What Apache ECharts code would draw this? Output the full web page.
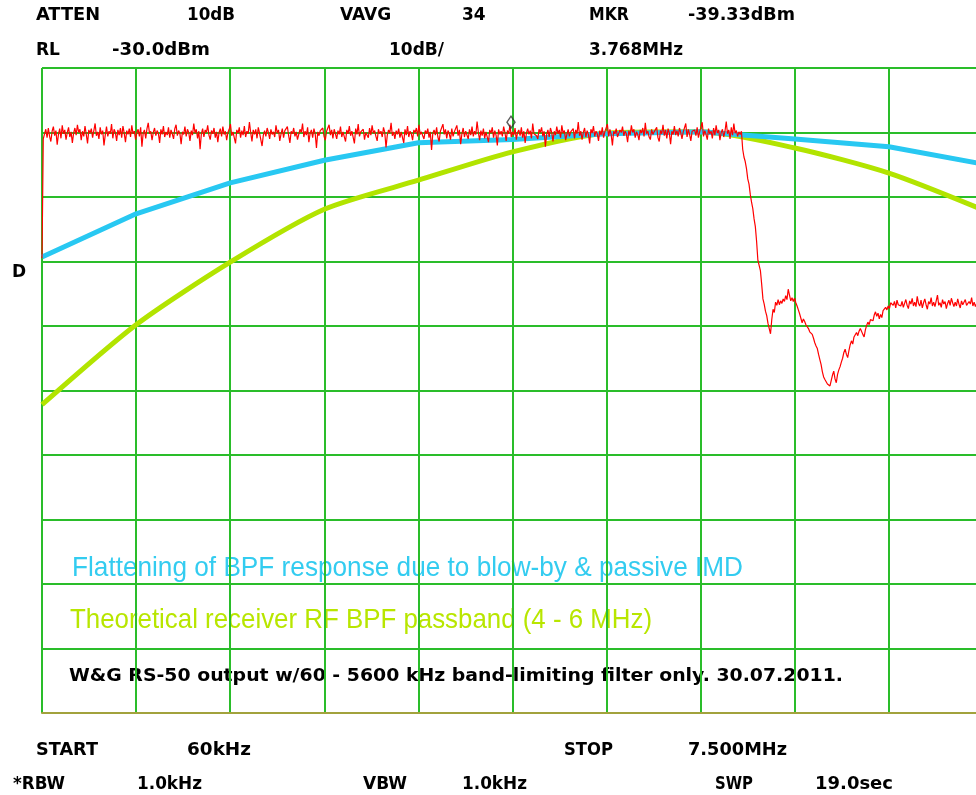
<!DOCTYPE html>
<html><head><meta charset="utf-8">
<script src="https://cdn.jsdelivr.net/npm/echarts@6/dist/echarts.min.js"></script>
<style>html,body{margin:0;padding:0;background:#fff}#c{width:976px;height:795px}</style>
</head><body><div id="c"></div>
<script>
// ---- DATA ----
const startMHz = 0.06, stopMHz = 7.5;          // START / STOP
const refLevelDbm = -30, dbPerDiv = 10, divisions = 10;
const redStepMHz = 0.01;                        // sweep point spacing of the measured trace
// measured trace (dBm), one value per sweep point starting at startMHz
const redLevels = [
 -59.5,
 -41.0,-40.2,-39.5,-40.8,-39.3,-40.6,-41.4,-39.8,-39.1,-40.5,-39.7,-41.9,-40.3,-39.4,-40.9,-38.9,-40.2,-39.6,-41.1,-40.0,
 -39.2,-40.7,-39.9,-41.6,-40.1,-39.3,-40.4,-38.8,-40.0,-39.5,-41.2,-39.8,-40.6,-39.0,-40.3,-41.7,-39.6,-40.1,-39.4,-40.8,
 -39.7,-38.6,-40.5,-39.9,-41.0,-39.2,-40.3,-39.7,-42.0,-40.4,-39.1,-40.6,-39.8,-40.2,-38.7,-40.9,-39.5,-40.0,-41.3,-39.6,
 -40.4,-39.3,-40.8,-39.0,-40.1,-41.5,-39.7,-40.3,-39.4,-40.7,-38.9,-40.2,-39.8,-41.1,-40.0,-39.5,-40.6,-39.2,-42.2,-40.1,
 -39.6,-40.9,-39.4,-38.5,-40.2,-39.8,-41.2,-40.0,-39.3,-40.5,-39.7,-40.1,-41.6,-39.5,-40.3,-39.0,-40.7,-39.9,-40.4,-39.2,
 -40.8,-39.6,-40.2,-41.0,-39.4,-38.8,-40.5,-39.7,-40.1,-41.8,-39.9,-40.3,-39.1,-40.6,-39.5,-40.0,-41.3,-39.7,-40.4,-38.6,
 -40.1,-39.5,-40.9,-39.8,-42.6,-40.2,-39.4,-40.7,-39.6,-40.0,-38.9,-40.4,-41.1,-39.7,-40.2,-39.3,-40.8,-39.9,-41.5,-40.0,
 -39.4,-40.6,-39.1,-40.3,-39.8,-41.2,-40.0,-39.5,-38.7,-40.5,-39.9,-40.2,-41.7,-39.6,-40.1,-39.2,-40.8,-39.7,-40.4,-39.0,
 -40.7,-39.8,-40.2,-38.4,-40.0,-41.4,-39.6,-40.3,-39.5,-40.9,-39.2,-40.1,-39.8,-42.1,-40.4,-39.7,-40.6,-39.3,-40.0,-41.0,
 -39.5,-40.3,-39.9,-40.7,-38.9,-40.1,-39.6,-41.3,-40.2,-39.4,-40.8,-39.7,-40.0,-39.1,-40.5,-41.6,-39.8,-40.2,-39.3,-40.6,
 -39.9,-41.1,-40.3,-39.5,-40.0,-38.6,-40.7,-39.8,-40.4,-39.2,-41.5,-40.1,-39.6,-40.8,-39.4,-40.2,-42.4,-39.9,-40.5,-39.7,
 -40.0,-39.3,-40.6,-41.2,-39.8,-40.1,-38.8,-40.4,-39.6,-40.9,-39.5,-40.2,-41.0,-39.7,-40.3,-39.1,-40.7,-39.9,-40.1,-41.4,
 -39.6,-40.2,-39.0,-40.5,-39.8,-40.0,-41.7,-39.4,-40.3,-38.7,-40.6,-39.9,-40.2,-39.5,-41.1,-40.0,-39.7,-40.8,-39.3,-40.4,
 -38.9,-40.1,-39.7,-40.6,-41.3,-39.5,-40.2,-39.8,-40.7,-39.2,-40.0,-42.3,-40.4,-39.6,-40.1,-38.5,-40.5,-39.9,-41.0,-39.7,
 -40.3,-39.4,-40.8,-39.9,-40.1,-41.6,-39.5,-40.4,-39.0,-40.7,-39.8,-40.2,-41.2,-39.6,-40.0,-39.3,-40.6,-38.8,-40.3,-39.9,
 -40.5,-41.0,-39.7,-40.2,-39.4,-40.8,-39.9,-42.7,-40.1,-39.6,-40.4,-39.2,-40.7,-41.4,-39.8,-40.0,-38.7,-40.3,-39.5,-40.9,
 -39.7,-40.2,-41.1,-39.4,-40.6,-39.9,-40.0,-38.9,-40.5,-39.6,-41.8,-40.2,-39.3,-40.7,-39.8,-40.1,-41.0,-39.5,-40.4,-39.1,
 -40.6,-39.8,-40.3,-38.3,-40.0,-41.2,-39.7,-40.5,-39.4,-40.9,-39.9,-40.2,-41.5,-39.6,-40.1,-39.2,-40.8,-39.7,-40.4,-42.0,
 -39.5,-40.3,-39.8,-40.6,-39.1,-40.0,-41.3,-39.7,-40.2,-38.8,-40.7,-39.9,-40.4,-39.3,-41.1,-40.0,-39.6,-40.5,-39.2,-40.8,
 -39.8,-41.6,-40.1,-39.4,-40.3,-39.7,-40.9,-38.6,-40.2,-39.9,-40.5,-41.0,-39.5,-40.0,-39.2,-40.6,-39.8,-42.2,-40.3,-39.6,
 -40.7,-39.3,-40.0,-41.4,-39.8,-40.4,-39.1,-40.2,-39.6,-40.8,-38.9,-40.1,-39.7,-41.2,-40.3,-39.5,-40.6,-39.9,-40.0,-39.4,
 -40.9,-39.6,-40.2,-38.4,-40.5,-39.8,-41.1,-40.0,-39.3,-40.7,-39.7,-40.3,-41.7,-39.5,-40.1,-39.0,-40.6,-39.8,-40.2,-41.3,
 -39.7,-40.4,-39.2,-40.8,-39.9,-40.1,-38.7,-40.6,-39.5,-40.3,-42.0,-39.8,-40.2,-39.4,-40.7,-41.0,-39.6,-40.0,-39.1,-40.5,
 -39.8,-40.2,-41.5,-39.7,-40.4,-38.9,-40.0,-39.5,-40.8,-39.9,-40.3,-41.2,-39.6,-40.1,-39.3,-40.6,-38.5,-40.2,-39.8,-40.7,
 -41.1,-39.5,-40.3,-39.9,-40.0,-39.2,-40.8,-41.4,-39.7,-40.2,-38.8,-40.5,-39.6,-40.9,-39.4,-40.1,-41.8,-39.8,-40.3,-39.0,
 -40.4,-39.7,-40.6,-39.3,-40.0,-41.0,-39.9,-40.2,-38.6,-40.7,-39.5,-40.3,-41.3,-39.8,-40.1,-39.6,-40.5,-39.2,-40.8,-39.9,
 -40.0,-38.4,-40.6,-39.7,-40.3,-41.1,-39.4,-40.2,-39.8,-40.9,-39.3,-40.4,-38.9,-40.1,-39.6,-41.2,-40.0,-39.5,-40.7,-39.8,
 -38.3,-40.2,-39.6,-41.0,-39.2,-40.4,-38.6,-40.1,-39.7,-40.6,-39.9,-40.3,-39.8,
 -42.6,-43.8,-44.5,-45.6,-47.2,-48.0,-49.6,-50.8,-51.8,-53.4,
 -54.6,-56.9,-59.8,-60.6,-61.4,-63.5,-65.8,-66.6,-67.7,-68.4,
 -69.6,-70.4,-71.2,-69.0,-67.4,-67.9,-66.3,-66.8,-65.9,-66.7,
 -66.1,-66.5,-65.8,-66.2,-65.3,-65.9,-64.3,-65.2,-66.1,-65.6,
 -66.2,-65.7,-66.4,-66.9,-67.5,-68.1,-68.8,-69.5,-68.9,-69.3,
 -69.8,-70.1,-70.4,-70.9,-71.0,-71.3,-71.9,-72.6,-73.1,-73.5,
 -74.4,-75.2,-76.0,-77.1,-77.9,-78.3,-78.6,-79.0,-78.7,-79.3,
 -79.0,-77.6,-77.0,-78.2,-78.8,-77.5,-76.8,-76.3,-75.6,-75.0,
 -74.1,-73.6,-74.4,-74.9,-73.8,-72.9,-72.3,-72.8,-71.7,-71.4,
 -71.0,-71.5,-70.8,-70.4,-70.7,-71.3,-71.7,-70.6,-69.9,-69.4,
 -69.8,-69.0,-68.7,-69.2,-68.3,-67.8,-68.5,-68.0,-68.9,-68.2,
 -68.7,-67.6,-67.9,-67.1,-67.5,-66.9,-67.3,-66.4,-66.1,-66.8,
 -66.2,-67.2,-66.0,-66.7,-66.4,
 -66.9,-66.2,-67.1,-66.5,-65.9,-66.8,-67.3,-66.1,-66.6,-65.7,
 -66.9,-66.3,-67.0,-65.4,-66.5,-66.9,-66.0,-67.2,-66.4,-65.8,
 -66.7,-67.4,-66.2,-66.6,-65.6,-66.9,-66.3,-67.0,-66.1,-65.2,
 -66.8,-66.4,-67.1,-65.9,-66.6,-66.2,-67.3,-66.5,-66.0,-66.8,
 -65.7,-66.4,-67.0,-66.3,-66.9,-65.8,-66.6,-67.2,-66.1,-66.7,
 -66.4,-65.9,-66.8,-67.1,-66.2,-66.6,-65.6,-66.9,-66.3,-67.0,
 -66.5,-66.1,-66.8,-66.4,-67.2,-66.0
];
// hand-drawn overlay curves, vertices at the graticule frequencies (MHz)
const curveFreqs  = [0.06, 0.804, 1.548, 2.292, 3.036, 3.78, 4.524, 5.268, 6.012, 6.756, 7.5];
const blueLevels  = [-59.3, -52.6, -47.8, -44.3, -41.6, -41.1, -40.2, -39.9, -41.0, -42.2, -44.9];
const greenLevels = [-82.2, -69.8, -60.1, -51.9, -47.4, -43.0, -40.1, -39.9, -42.4, -46.3, -52.0];
const markerFreq = 3.768, markerLevel = -39.33;

const headerRow1 = ['ATTEN', '10dB', 'VAVG', '34', 'MKR', '-39.33dBm'];
const headerRow2 = ['RL', '-30.0dBm', '10dB/', '3.768MHz'];
const footerRow1 = ['START', '60kHz', 'STOP', '7.500MHz'];
const footerRow2 = ['*RBW', '1.0kHz', 'VBW', '1.0kHz', 'SWP', '19.0sec'];
const sideLabel = 'D';
const blueNote = 'Flattening of BPF response due to blow-by & passive IMD';
const greenNote = 'Theoretical receiver RF BPF passband (4 - 6 MHz)';
const blackNote = 'W&G RS-50 output w/60 - 5600 kHz band-limiting filter only. 30.07.2011.';

// ---- LAYOUT / STYLE ----
const gridLeft = 42, gridTop = 68, gridFullWidth = 941, gridHeight = 645, canvasW = 976;
const visibleFrac = (canvasW - gridLeft) / gridFullWidth;   // graticule runs past the right edge
const gridColor = '#2abd2a';
const redColor = '#ff0000', blueColor = '#28c8f2', greenColor = '#b2e400';
const hdrFont = 'bold 17px "DejaVu Sans"';
const noteFont = '28px "Liberation Sans"';

const mctx = document.createElement('canvas').getContext('2d');
function measure(t, f) { mctx.font = f; return mctx.measureText(t).width; }

function txt(t, x, y, font, color, targetW, z) {
  const el = { type: 'text', x: x, y: y, z: z || 10,
    style: { text: t, font: font, fill: color, align: 'left', verticalAlign: 'middle' } };
  if (targetW) { el.scaleX = targetW / measure(t, font); }
  return el;
}

const elements = [];
[[36, 64], [187, 48], [340, 0], [462, 0], [589, 40], [688, 107]].forEach((p, i) =>
  elements.push(txt(headerRow1[i], p[0], 16, hdrFont, '#000', p[1])));
[[36, 0], [112, 98], [389, 0], [589, 94]].forEach((p, i) =>
  elements.push(txt(headerRow2[i], p[0], 51, hdrFont, '#000', p[1])));
[[36, 62], [187, 64], [564, 49], [688, 99]].forEach((p, i) =>
  elements.push(txt(footerRow1[i], p[0], 751, hdrFont, '#000', p[1])));
[[13, 52], [137, 65], [363, 0], [462, 65], [715, 38], [815, 78]].forEach((p, i) =>
  elements.push(txt(footerRow2[i], p[0], 785, hdrFont, '#000', p[1])));
elements.push(txt(sideLabel, 12, 273, hdrFont, '#000', 0));
elements.push(txt(blueNote, 72, 568, noteFont, '#33ccf0', 671, -5));
elements.push(txt(greenNote, 70, 620, noteFont, '#b8e600', 582, -5));
elements.push(txt(blackNote, 69, 677, hdrFont, '#000', 774, -5));

const redData = redLevels.map((v, i) => [startMHz + i * redStepMHz, v]);
const blueData = curveFreqs.map((f, i) => [f, blueLevels[i]]);
const greenData = curveFreqs.map((f, i) => [f, greenLevels[i]]);

const chart = echarts.init(document.getElementById('c'), null, { renderer: 'canvas' });
chart.setOption({
  animation: false,
  backgroundColor: '#ffffff',
  grid: { left: gridLeft, top: gridTop, width: canvasW - gridLeft, height: gridHeight, containLabel: false },
  xAxis: [
    { type: 'value', min: startMHz, max: startMHz + (stopMHz - startMHz) * visibleFrac, z: 3,
      axisLine: { show: true, onZero: false, lineStyle: { color: '#a2a23c', width: 2 } },
      axisTick: { show: false }, axisLabel: { show: false }, splitLine: { show: false } },
    { type: 'value', min: 0, max: divisions * visibleFrac, interval: 1, position: 'top',
      axisLine: { show: false }, axisTick: { show: false }, axisLabel: { show: false },
      splitLine: { show: true, showMaxLine: false, lineStyle: { color: gridColor, width: 2 } } }
  ],
  yAxis: {
    type: 'value', min: refLevelDbm - dbPerDiv * divisions, max: refLevelDbm, interval: dbPerDiv,
    axisLine: { show: false }, axisTick: { show: false }, axisLabel: { show: false },
    splitLine: { show: true, showMinLine: false, lineStyle: { color: gridColor, width: 2 } }
  },
  graphic: { elements: elements },
  series: [
    { type: 'line', xAxisIndex: 0, data: greenData, symbol: 'none', smooth: 0.25, z: 3,
      lineStyle: { color: greenColor, width: 5 } },
    { type: 'line', xAxisIndex: 0, data: blueData, symbol: 'none', z: 4,
      lineStyle: { color: blueColor, width: 5 } },
    { type: 'line', xAxisIndex: 0, data: redData, symbol: 'none', z: 5,
      lineStyle: { color: redColor, width: 1.2 } },
    { type: 'scatter', xAxisIndex: 0, data: [[markerFreq, markerLevel]], z: 6,
      symbol: 'diamond', symbolSize: [8, 12], symbolOffset: [0, -6],
      itemStyle: { color: 'rgba(0,0,0,0)', borderColor: '#333', borderWidth: 1.5 } }
  ]
});
</script></body></html>
